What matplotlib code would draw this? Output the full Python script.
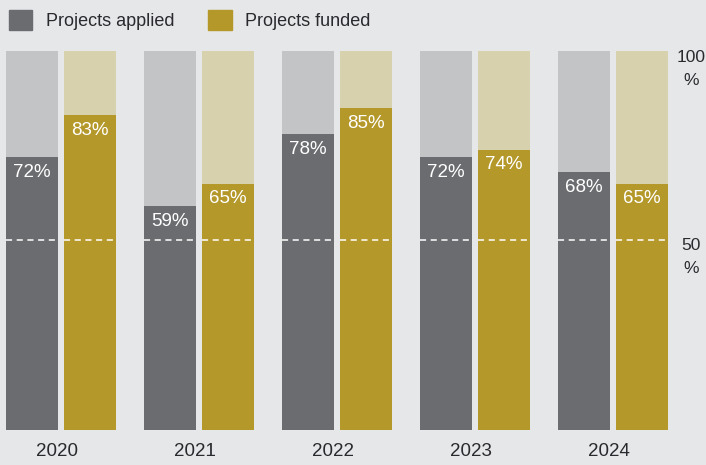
import matplotlib
matplotlib.use("Agg")
import matplotlib.pyplot as plt
from matplotlib.patches import Patch

years = ["2020", "2021", "2022", "2023", "2024"]
applied = [72, 59, 78, 72, 68]
funded = [83, 65, 85, 74, 65]

BG = "#e6e7e9"
DARK_GREY = "#6b6c70"
LIGHT_GREY = "#c3c4c6"
GOLD = "#b5982a"
LIGHT_GOLD = "#d8d1ad"
TEXT = "#2a2a2e"

plt.rcParams["font.family"] = ["Liberation Sans", "DejaVu Sans"]

W, H = 706, 465
fig = plt.figure(figsize=(W / 100, H / 100), dpi=100, facecolor=BG)
# y: 0% at px 430, 100% at px 51
ax = fig.add_axes([0, (H - 430) / H, 1, (430 - 51) / H])
ax.set_facecolor(BG)
ax.set_ylim(0, 100)
step = 138.0
ax.set_xlim(-61 / step, (W - 61) / step)
ax.axis("off")

bw = 52 / step
off = 29 / step
for i, yr in enumerate(years):
    for x, v, c_full, c_val in [(i - off, applied[i], LIGHT_GREY, DARK_GREY),
                                (i + off, funded[i], LIGHT_GOLD, GOLD)]:
        ax.bar(x, 100, width=bw, color=c_full, linewidth=0)
        ax.bar(x, v, width=bw, color=c_val, linewidth=0)
        ax.plot([x - bw / 2, x + bw / 2], [50, 50], color="white", lw=1.1,
                ls=(0, (4, 3)))
        ax.text(x, v - 4, f"{v}%", color="white", fontsize=13.5,
                ha="center", va="center")
    ax.text(i - 4 / step, -5.8, yr, color=TEXT, fontsize=13.5, ha="center",
            va="center", clip_on=False)

xr = (691 - 61) / step
ax.text(xr, 98.4, "100", color=TEXT, fontsize=12.5, ha="center", va="center")
ax.text(xr, 92.3, "%", color=TEXT, fontsize=12.5, ha="center", va="center")
ax.text(xr, 48.8, "50", color=TEXT, fontsize=12.5, ha="center", va="center")
ax.text(xr, 42.7, "%", color=TEXT, fontsize=12.5, ha="center", va="center")

handles = [Patch(color=DARK_GREY, label="Projects applied"),
           Patch(color=GOLD, label="Projects funded")]
fig.legend(handles=handles, loc="center left", bbox_to_anchor=(0.0, (H - 20) / H),
           ncol=2, frameon=False, fontsize=13, labelcolor=TEXT,
           handlelength=1.28, handleheight=1.28, handletextpad=0.75,
           columnspacing=1.9, borderpad=0, borderaxespad=0.5)

fig.savefig("out.png", dpi=100, facecolor=BG)
